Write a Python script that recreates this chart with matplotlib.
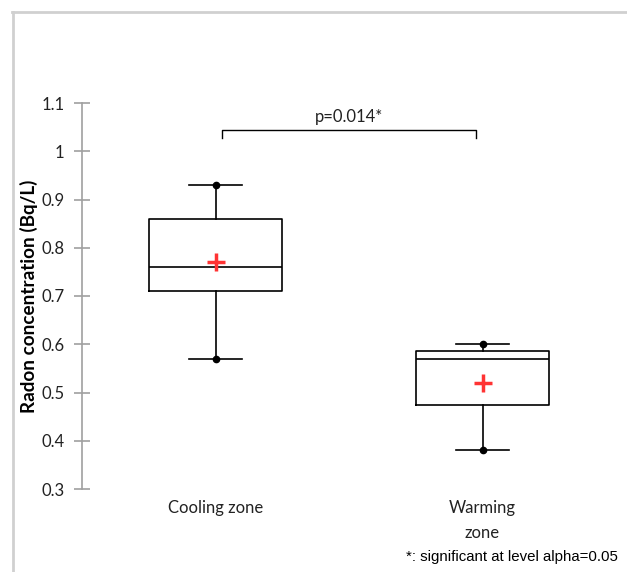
import matplotlib.pyplot as plt
from matplotlib.lines import Line2D

# Box statistics
categories = ['Cooling zone', 'Warming\nzone']
whislo = [0.57, 0.38]
q1 = [0.71, 0.475]
med = [0.76, 0.57]
q3 = [0.86, 0.585]
whishi = [0.93, 0.60]
means = [0.77, 0.52]
p_text = 'p=0.014*'
bracket_y = 1.045
yticks = [0.3, 0.4, 0.5, 0.6, 0.7, 0.8, 0.9, 1, 1.1]
ytick_labels = ['0.3', '0.4', '0.5', '0.6', '0.7', '0.8', '0.9', '1', '1.1']

plt.rcParams['font.family'] = 'Lato'

fig = plt.figure(figsize=(6.27, 5.72), dpi=100)
ax = fig.add_axes([82/627, 83/572, 534/627, 386/572])

positions = [1, 2]
stats = []
for i in range(len(categories)):
    stats.append(dict(whislo=whislo[i], q1=q1[i], med=med[i], q3=q3[i],
                      whishi=whishi[i], fliers=[], label=categories[i]))

lw = 1.2
ax.bxp(stats, positions=positions, widths=0.5, showfliers=False,
       boxprops=dict(color='black', linewidth=lw),
       medianprops=dict(color='black', linewidth=lw),
       whiskerprops=dict(color='black', linewidth=lw),
       capprops=dict(color='black', linewidth=lw),
       capwidths=0.2)

# dots at whisker ends
ax.plot(positions, whishi, 'o', color='black', markersize=4.5, zorder=3)
ax.plot(positions, whislo, 'o', color='black', markersize=4.5, zorder=3)

# means
ax.plot(positions, means, '+', color='#ff3333', markersize=13, markeredgewidth=2.5, zorder=4)

# significance bracket
drop = 0.017
ax.plot([1.026, 1.026, 1.974, 1.974],
        [bracket_y - drop, bracket_y, bracket_y, bracket_y - drop],
        color='black', linewidth=1.0)
ax.text(1.5, bracket_y + 0.01, p_text, ha='center', va='bottom', fontsize=12, color='#222222')

ax.set_xlim(0.5, 2.5)
ax.set_ylim(0.3, 1.1)
ax.set_yticks(yticks)
ax.set_yticklabels(ytick_labels, fontsize=12, color='#222222')
ax.set_xticks(positions)
ax.set_xticklabels(categories, fontsize=12, color='#222222', linespacing=1.7)
ax.tick_params(axis='x', length=0, pad=8)
ax.tick_params(axis='y', direction='inout', length=11, color='#a0a0a0', width=1.2, pad=7)

for s in ['top', 'right', 'bottom']:
    ax.spines[s].set_visible(False)
ax.spines['left'].set_color('#a0a0a0')
ax.spines['left'].set_linewidth(1.2)

ax.set_ylabel('Radon concentration (Bq/L)', fontsize=13.6, fontweight='bold')
ax.yaxis.set_label_coords(-0.082, 0.5)

# footnote
fig.text(618/627, 1 - 557/572, '*: significant at level alpha=0.05',
         ha='right', va='center', fontsize=10.8, family='Liberation Sans')

# light gray frame lines at top and left
fig.add_artist(Line2D([12/627, 1], [1 - 12/572, 1 - 12/572], color='#d0d0d0', linewidth=2))
fig.add_artist(Line2D([13/627, 13/627], [0, 1 - 12/572], color='#d0d0d0', linewidth=2))

fig.savefig('out.png', dpi=100)
